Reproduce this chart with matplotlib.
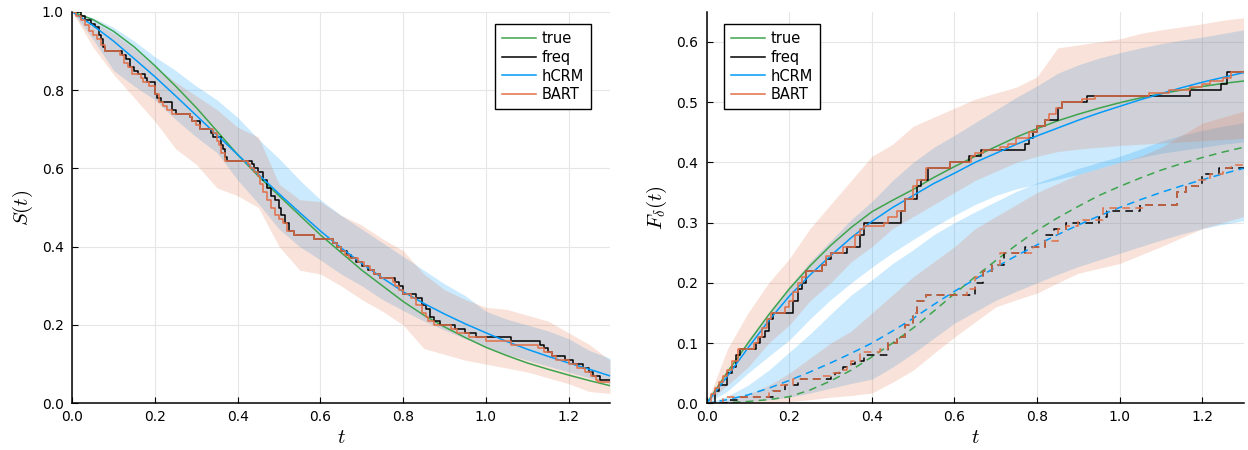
import matplotlib.pyplot as plt
import numpy as np

plt.rcParams['mathtext.fontset'] = 'cm'
plt.rcParams['font.family'] = 'DejaVu Sans'

GREEN = '#3da44d'
BLUE = '#009af9'
ORANGE = '#e26f46'

# common time grid for the smooth curves and the bands
T = [0.0, 0.05, 0.1, 0.15, 0.2, 0.25, 0.3, 0.35, 0.4, 0.45, 0.5, 0.55, 0.6, 0.65,
     0.7, 0.75, 0.8, 0.85, 0.9, 0.95, 1.0, 1.05, 1.1, 1.15, 1.2, 1.25, 1.3]

# ---------- left panel: S(t) ----------
S_true = [1.0, 0.98, 0.95, 0.91, 0.862, 0.81, 0.755, 0.695, 0.635, 0.58, 0.53, 0.48, 0.43, 0.385,
          0.34, 0.30, 0.26, 0.225, 0.195, 0.168, 0.143, 0.122, 0.103, 0.087, 0.072, 0.058, 0.045]
S_hcrm = [1.0, 0.965, 0.925, 0.88, 0.834, 0.785, 0.735, 0.685, 0.635, 0.585, 0.535, 0.487, 0.44, 0.397,
          0.357, 0.32, 0.285, 0.255, 0.228, 0.203, 0.18, 0.158, 0.138, 0.12, 0.103, 0.087, 0.07]
S_hcrm_lo = [1.0, 0.93, 0.85, 0.81, 0.775, 0.725, 0.68, 0.64, 0.57, 0.51, 0.445, 0.40, 0.366, 0.33,
             0.30, 0.265, 0.237, 0.21, 0.187, 0.165, 0.145, 0.125, 0.11, 0.095, 0.08, 0.065, 0.05]
S_hcrm_hi = [1.0, 0.985, 0.96, 0.925, 0.885, 0.85, 0.81, 0.775, 0.73, 0.675, 0.625, 0.57, 0.52, 0.48,
             0.445, 0.41, 0.375, 0.34, 0.305, 0.275, 0.235, 0.215, 0.20, 0.185, 0.165, 0.135, 0.115]
S_bart_lo = [1.0, 0.91, 0.84, 0.78, 0.72, 0.65, 0.61, 0.55, 0.53, 0.50, 0.40, 0.34, 0.33, 0.30,
             0.265, 0.235, 0.20, 0.14, 0.125, 0.11, 0.10, 0.09, 0.08, 0.065, 0.05, 0.03, 0.025]
S_bart_hi = [1.0, 0.975, 0.945, 0.905, 0.86, 0.82, 0.785, 0.75, 0.705, 0.68, 0.56, 0.52, 0.515, 0.48,
             0.455, 0.42, 0.39, 0.33, 0.29, 0.265, 0.245, 0.24, 0.225, 0.21, 0.18, 0.15, 0.11]

S_freq_t = [0, 0.02, 0.03, 0.045, 0.055, 0.065, 0.07, 0.075, 0.078, 0.12, 0.13, 0.14, 0.15, 0.16,
            0.175, 0.18, 0.2, 0.205, 0.215, 0.24, 0.25, 0.285, 0.29, 0.31, 0.335, 0.34, 0.36, 0.365,
            0.37, 0.375, 0.435, 0.44, 0.45, 0.46, 0.47, 0.48, 0.49, 0.50, 0.505, 0.515, 0.525, 0.535,
            0.585, 0.63, 0.64, 0.65, 0.665, 0.675, 0.685, 0.70, 0.715, 0.73, 0.745, 0.78, 0.79, 0.80,
            0.83, 0.845, 0.855, 0.865, 0.875, 0.89, 0.925, 0.95, 0.975, 1.06, 1.13, 1.14, 1.15, 1.16,
            1.19, 1.21, 1.235, 1.25, 1.26, 1.275, 1.3]
S_freq = [1.0, 0.99, 0.98, 0.97, 0.96, 0.94, 0.93, 0.91, 0.90, 0.89, 0.88, 0.86, 0.85, 0.84,
          0.83, 0.82, 0.79, 0.78, 0.77, 0.75, 0.74, 0.73, 0.72, 0.70, 0.69, 0.68, 0.66, 0.65,
          0.63, 0.62, 0.61, 0.60, 0.59, 0.57, 0.55, 0.53, 0.52, 0.50, 0.48, 0.46, 0.44, 0.43,
          0.42, 0.41, 0.40, 0.39, 0.38, 0.37, 0.36, 0.35, 0.34, 0.33, 0.32, 0.31, 0.30, 0.28,
          0.27, 0.25, 0.24, 0.22, 0.21, 0.20, 0.19, 0.18, 0.17, 0.16, 0.15, 0.14, 0.13, 0.12,
          0.11, 0.10, 0.09, 0.08, 0.07, 0.06, 0.06]

S_bart_t = [0, 0.01, 0.02, 0.03, 0.04, 0.05, 0.06, 0.07, 0.08, 0.115, 0.125, 0.135, 0.145, 0.165,
            0.17, 0.185, 0.2, 0.21, 0.22, 0.23, 0.24, 0.285, 0.29, 0.3, 0.31, 0.34, 0.35, 0.355,
            0.36, 0.37, 0.425, 0.43, 0.44, 0.45, 0.455, 0.46, 0.47, 0.48, 0.49, 0.5, 0.51, 0.52,
            0.535, 0.585, 0.63, 0.64, 0.65, 0.66, 0.67, 0.69, 0.705, 0.72, 0.73, 0.745, 0.775, 0.78,
            0.79, 0.80, 0.82, 0.83, 0.845, 0.855, 0.86, 0.875, 0.915, 0.93, 0.96, 1.0, 1.06, 1.125,
            1.14, 1.16, 1.17, 1.2, 1.22, 1.24, 1.255, 1.265, 1.27, 1.3]
S_bart = [1.0, 0.99, 0.98, 0.965, 0.95, 0.94, 0.93, 0.915, 0.90, 0.89, 0.87, 0.86, 0.84, 0.83,
          0.82, 0.81, 0.79, 0.77, 0.76, 0.75, 0.74, 0.73, 0.72, 0.71, 0.70, 0.69, 0.67, 0.66,
          0.64, 0.62, 0.61, 0.60, 0.59, 0.58, 0.56, 0.54, 0.52, 0.50, 0.48, 0.47, 0.46, 0.44,
          0.43, 0.42, 0.41, 0.40, 0.39, 0.38, 0.37, 0.36, 0.35, 0.34, 0.33, 0.32, 0.31, 0.30,
          0.29, 0.28, 0.27, 0.25, 0.23, 0.22, 0.21, 0.20, 0.19, 0.18, 0.17, 0.16, 0.15, 0.14,
          0.13, 0.12, 0.11, 0.10, 0.09, 0.08, 0.07, 0.06, 0.055, 0.055]

# ---------- right panel: F_delta(t), solid = cause 1, dashed = cause 2 ----------
F1_true = [0.0, 0.052, 0.1, 0.147, 0.19, 0.228, 0.262, 0.292, 0.318, 0.337, 0.355, 0.375, 0.393, 0.41,
           0.426, 0.442, 0.456, 0.469, 0.48, 0.49, 0.499, 0.507, 0.514, 0.52, 0.526, 0.531, 0.535]
F1_hcrm = [0.0, 0.045, 0.092, 0.137, 0.178, 0.213, 0.245, 0.275, 0.302, 0.325, 0.345, 0.365, 0.382, 0.40,
           0.415, 0.43, 0.444, 0.457, 0.47, 0.482, 0.493, 0.504, 0.514, 0.524, 0.533, 0.541, 0.549]
F2_true = [0.0, 0.001, 0.003, 0.006, 0.011, 0.022, 0.037, 0.055, 0.077, 0.10, 0.125, 0.153, 0.182, 0.21,
           0.237, 0.263, 0.287, 0.308, 0.327, 0.345, 0.36, 0.374, 0.387, 0.398, 0.408, 0.417, 0.425]
F2_hcrm = [0.0, 0.006, 0.014, 0.025, 0.038, 0.052, 0.067, 0.083, 0.10, 0.12, 0.141, 0.164, 0.186, 0.206,
           0.226, 0.245, 0.263, 0.28, 0.296, 0.311, 0.325, 0.338, 0.35, 0.361, 0.371, 0.381, 0.39]

F1_hcrm_hi = [0.0, 0.05, 0.105, 0.15, 0.194, 0.235, 0.27, 0.305, 0.335, 0.37, 0.40, 0.425, 0.445, 0.466,
              0.487, 0.508, 0.527, 0.548, 0.562, 0.573, 0.582, 0.59, 0.597, 0.603, 0.608, 0.614, 0.62]
F1_hcrm_lo = [0.0, 0.02, 0.05, 0.078, 0.105, 0.14, 0.172, 0.2, 0.226, 0.25, 0.272, 0.293, 0.312, 0.33,
              0.345, 0.356, 0.364, 0.372, 0.38, 0.39, 0.40, 0.408, 0.415, 0.42, 0.425, 0.43, 0.434]
F1_bart_hi = [0.0, 0.09, 0.15, 0.2, 0.24, 0.29, 0.33, 0.37, 0.41, 0.43, 0.46, 0.475, 0.49, 0.505,
              0.515, 0.525, 0.542, 0.59, 0.595, 0.60, 0.605, 0.614, 0.62, 0.625, 0.63, 0.636, 0.64]
F1_bart_lo = [0.0, 0.03, 0.06, 0.10, 0.13, 0.17, 0.20, 0.235, 0.26, 0.29, 0.31, 0.33, 0.35, 0.37,
              0.385, 0.40, 0.41, 0.418, 0.422, 0.425, 0.428, 0.43, 0.432, 0.434, 0.436, 0.438, 0.44]
F2_hcrm_hi = [0.0, 0.012, 0.03, 0.055, 0.085, 0.115, 0.148, 0.18, 0.205, 0.232, 0.255, 0.28, 0.30, 0.318,
              0.335, 0.352, 0.366, 0.378, 0.39, 0.40, 0.41, 0.422, 0.435, 0.445, 0.453, 0.46, 0.466]
F2_hcrm_lo = [0.0, 0.0, 0.003, 0.006, 0.01, 0.017, 0.025, 0.033, 0.04, 0.06, 0.083, 0.108, 0.133, 0.152,
              0.171, 0.186, 0.20, 0.214, 0.227, 0.238, 0.249, 0.26, 0.271, 0.281, 0.29, 0.297, 0.303]
F2_bart_hi = [0.0, 0.005, 0.015, 0.03, 0.05, 0.075, 0.10, 0.12, 0.15, 0.18, 0.21, 0.235, 0.26, 0.29,
              0.31, 0.33, 0.35, 0.365, 0.38, 0.39, 0.40, 0.41, 0.425, 0.445, 0.465, 0.475, 0.485]
F2_bart_lo = [0.0, 0.0, 0.0, 0.0, 0.003, 0.006, 0.01, 0.013, 0.017, 0.035, 0.055, 0.083, 0.11, 0.135,
              0.16, 0.172, 0.183, 0.2, 0.216, 0.224, 0.232, 0.246, 0.26, 0.275, 0.29, 0.30, 0.31]

F1_freq_t = [0, 0.02, 0.03, 0.05, 0.06, 0.07, 0.08, 0.12, 0.13, 0.14, 0.15, 0.16, 0.21, 0.22,
             0.23, 0.24, 0.28, 0.29, 0.30, 0.34, 0.37, 0.38, 0.47, 0.48, 0.51, 0.52, 0.535, 0.59,
             0.635, 0.665, 0.77, 0.78, 0.79, 0.80, 0.82, 0.85, 0.86, 0.92, 1.17, 1.245, 1.26, 1.3]
F1_freq = [0, 0.02, 0.03, 0.05, 0.06, 0.08, 0.09, 0.10, 0.11, 0.12, 0.14, 0.15, 0.17, 0.19,
           0.20, 0.22, 0.23, 0.24, 0.25, 0.26, 0.28, 0.30, 0.32, 0.34, 0.36, 0.37, 0.39, 0.40,
           0.41, 0.42, 0.43, 0.44, 0.45, 0.46, 0.47, 0.49, 0.50, 0.51, 0.52, 0.53, 0.55, 0.55]
F1_bart_t = [0, 0.01, 0.02, 0.03, 0.04, 0.05, 0.06, 0.075, 0.115, 0.125, 0.135, 0.145, 0.155, 0.19,
             0.2, 0.21, 0.22, 0.23, 0.24, 0.28, 0.29, 0.30, 0.33, 0.36, 0.37, 0.38, 0.43, 0.44,
             0.46, 0.48, 0.50, 0.51, 0.53, 0.59, 0.64, 0.65, 0.67, 0.71, 0.73, 0.75, 0.78, 0.80,
             0.82, 0.83, 0.845, 0.86, 0.91, 0.94, 1.07, 1.12, 1.17, 1.2, 1.22, 1.25, 1.27, 1.3]
F1_bart = [0, 0.015, 0.025, 0.035, 0.045, 0.055, 0.07, 0.09, 0.10, 0.11, 0.125, 0.14, 0.15, 0.16,
           0.17, 0.185, 0.20, 0.21, 0.22, 0.23, 0.245, 0.25, 0.26, 0.28, 0.29, 0.295, 0.30, 0.31,
           0.32, 0.34, 0.36, 0.37, 0.39, 0.40, 0.41, 0.415, 0.42, 0.425, 0.43, 0.44, 0.45, 0.46,
           0.47, 0.48, 0.49, 0.50, 0.505, 0.51, 0.515, 0.52, 0.525, 0.53, 0.535, 0.54, 0.55, 0.55]
F2_freq_t = [0, 0.05, 0.08, 0.16, 0.19, 0.22, 0.30, 0.31, 0.33, 0.35, 0.36, 0.38, 0.44, 0.46,
             0.48, 0.50, 0.51, 0.53, 0.65, 0.67, 0.69, 0.72, 0.77, 0.82, 0.84, 0.87, 0.95, 0.97,
             1.05, 1.14, 1.16, 1.2, 1.24, 1.3]
F2_freq = [0, 0.005, 0.01, 0.02, 0.03, 0.04, 0.045, 0.05, 0.06, 0.065, 0.07, 0.08, 0.10, 0.11,
           0.13, 0.15, 0.17, 0.18, 0.20, 0.22, 0.23, 0.25, 0.26, 0.28, 0.29, 0.30, 0.31, 0.32,
           0.33, 0.35, 0.36, 0.38, 0.39, 0.39]
F2_bart_t = [0, 0.04, 0.15, 0.18, 0.21, 0.28, 0.30, 0.32, 0.34, 0.35, 0.37, 0.42, 0.44, 0.46,
             0.48, 0.50, 0.51, 0.53, 0.63, 0.65, 0.67, 0.69, 0.71, 0.79, 0.82, 0.85, 0.87, 0.90,
             0.96, 1.06, 1.14, 1.16, 1.19, 1.22, 1.25, 1.27, 1.3]
F2_bart = [0, 0.01, 0.02, 0.03, 0.04, 0.045, 0.05, 0.055, 0.06, 0.07, 0.085, 0.09, 0.10, 0.11,
           0.13, 0.15, 0.17, 0.18, 0.19, 0.21, 0.22, 0.23, 0.25, 0.26, 0.27, 0.29, 0.295, 0.305,
           0.325, 0.33, 0.35, 0.36, 0.37, 0.38, 0.39, 0.395, 0.395]


def style(ax, ymax, yticks):
    ax.set_xlim(0, 1.3)
    ax.set_ylim(0, ymax)
    ax.set_xticks([0.0, 0.2, 0.4, 0.6, 0.8, 1.0, 1.2])
    ax.set_yticks(yticks)
    ax.xaxis.set_major_formatter(plt.FormatStrFormatter('%.1f'))
    ax.yaxis.set_major_formatter(plt.FormatStrFormatter('%.1f'))
    ax.grid(True, color='#e6e6e6', lw=0.8)
    ax.set_axisbelow(True)
    for s in ['top', 'right']:
        ax.spines[s].set_visible(False)
    for s in ['left', 'bottom']:
        ax.spines[s].set_linewidth(1.1)
        ax.spines[s].set_zorder(10)
    ax.tick_params(direction='in', length=4, width=0.8, labelsize=10)
    ax.tick_params(axis='x', pad=5)
    ax.tick_params(axis='y', pad=6)
    ax.set_xlabel('$t$', fontsize=15, labelpad=2)


fig = plt.figure(figsize=(12.48, 4.5), dpi=100)
ax1 = fig.add_axes([0.0579, 0.1038, 0.4309, 0.870])
ax2 = fig.add_axes([0.5663, 0.1038, 0.4301, 0.870])

lw = 1.1
a = 0.2

# left panel
ax1.fill_between(T, S_hcrm_lo, S_hcrm_hi, color=BLUE, alpha=a, lw=0)
ax1.fill_between(T, S_bart_lo, S_bart_hi, color=ORANGE, alpha=a, lw=0)
ax1.plot(T, S_true, color=GREEN, lw=lw, label='true')
ax1.step(S_freq_t, S_freq, where='post', color='black', lw=lw, label='freq')
ax1.plot(T, S_hcrm, color=BLUE, lw=lw, label='hCRM')
ax1.step(S_bart_t, S_bart, where='post', color=ORANGE, lw=lw, label='BART')
style(ax1, 1.0, [0.0, 0.2, 0.4, 0.6, 0.8, 1.0])
ax1.set_ylabel('$S(t)$', fontsize=15, labelpad=5)
ax1.legend(loc='upper right', bbox_to_anchor=(0.965, 0.969), borderaxespad=0, fontsize=10.5,
           fancybox=False, framealpha=1, edgecolor='black', handlelength=2.3,
           labelspacing=0.25, borderpad=0.5, handletextpad=0.4).get_frame().set_linewidth(1.0)

# right panel
ax2.fill_between(T, F1_hcrm_lo, F1_hcrm_hi, color=BLUE, alpha=a, lw=0)
ax2.fill_between(T, F2_hcrm_lo, F2_hcrm_hi, color=BLUE, alpha=a, lw=0)
ax2.fill_between(T, F1_bart_lo, F1_bart_hi, color=ORANGE, alpha=a, lw=0)
ax2.fill_between(T, F2_bart_lo, F2_bart_hi, color=ORANGE, alpha=a, lw=0)
ax2.plot(T, F1_true, color=GREEN, lw=lw, label='true')
ax2.step(F1_freq_t, F1_freq, where='post', color='black', lw=lw, label='freq')
ax2.plot(T, F1_hcrm, color=BLUE, lw=lw, label='hCRM')
ax2.step(F1_bart_t, F1_bart, where='post', color=ORANGE, lw=lw, label='BART')
ax2.plot(T, F2_true, color=GREEN, lw=lw, dashes=(5, 3.5))
ax2.step(F2_freq_t, F2_freq, where='post', color='black', lw=lw, dashes=(5, 3.5))
ax2.plot(T, F2_hcrm, color=BLUE, lw=lw, dashes=(5, 3.5))
ax2.step(F2_bart_t, F2_bart, where='post', color=ORANGE, lw=lw, dashes=(5, 3.5))
style(ax2, 0.65, [0.0, 0.1, 0.2, 0.3, 0.4, 0.5, 0.6])
ax2.set_ylabel('$F_\\delta(t)$', fontsize=15, labelpad=5)
ax2.legend(loc='upper left', bbox_to_anchor=(0.032, 0.969), borderaxespad=0, fontsize=10.5,
           fancybox=False, framealpha=1, edgecolor='black', handlelength=2.3,
           labelspacing=0.25, borderpad=0.5, handletextpad=0.4).get_frame().set_linewidth(1.0)

fig.savefig('out.png', dpi=100)
